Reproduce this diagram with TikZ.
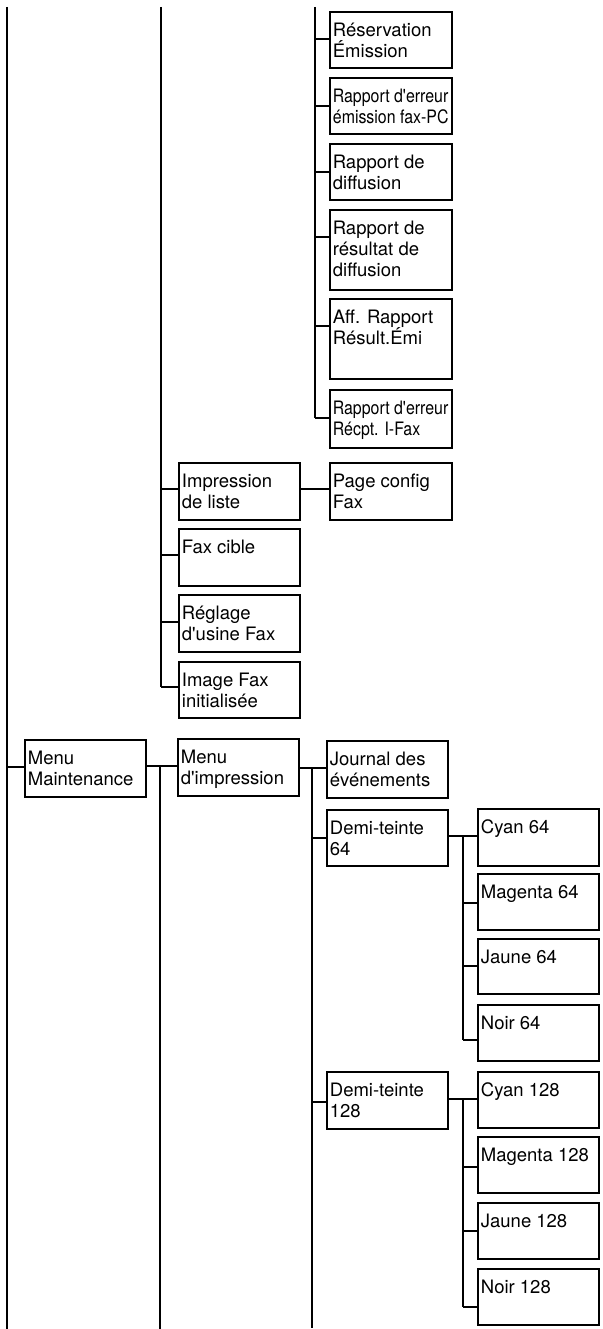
\documentclass[tikz,border=0pt]{standalone}
\usepackage{fontspec}
\usepackage{graphicx}
\usetikzlibrary{calc}
\newfontfamily\hv{TeX Gyre Heros}
\newcommand\cnd[1]{\scalebox{0.86}[1]{#1}}
\tikzset{
  bx/.style={draw, line width=1.8pt, inner sep=0pt, anchor=north west, font=\hv\fontsize{18.5}{21}\selectfont},
  ln/.style={line width=1.8pt},
}
\newcommand\bx[6]{\node[bx] (#1) at (#2,#3) {\parbox[t][#5pt][t]{#4pt}{\leftskip=3pt\rule{0pt}{24.5pt}#6}};}
\newcommand\stub[3]{\coordinate (#1s) at ($(#1.north west)+(0,#2)$);
  \draw[ln] (#3 |- #1s) -- (#1s);}
\begin{document}
\begin{tikzpicture}[x=1pt,y=-1pt]
\useasboundingbox (0,0) rectangle (602,1329);
% ---- column C (top)
\bx{res}{329}{11}{122}{56}{Réservation\\Émission}
\bx{rerr}{329}{77}{122}{56}{\cnd{Rapport d'erreur}\\\cnd{émission fax-PC}}
\bx{rdiff}{329}{143}{122}{56}{Rapport de\\diffusion}
\bx{rres}{329}{209}{122}{80}{Rapport de\\résultat de\\diffusion}
\bx{aff}{329}{298}{122}{80}{Aff. Rapport\\Résult.Émi}
\bx{rerr2}{329}{389}{122}{58}{\cnd{Rapport d'erreur}\\\cnd{Récpt. I-Fax}}
\bx{page}{329}{462}{122}{57}{Page config\\Fax}
% ---- column B (top)
\bx{imp}{178}{462}{121}{57}{Impression\\de liste}
\bx{faxc}{178}{528}{121}{57}{Fax cible}
\bx{regl}{178}{594}{121}{57}{Réglage\\d'usine Fax}
\bx{img}{178}{661}{121}{56}{Image Fax\\initialisée}
% ---- bottom part
\bx{mm}{24}{739}{121}{57}{Menu\\Maintenance}
\bx{mi}{177}{738}{121}{57}{Menu\\d'impression}
\bx{jrn}{326}{740}{121}{57}{Journal des\\événements}
\bx{d64}{326}{809}{121}{56}{Demi-teinte\\64}
\bx{c64}{477}{808}{121}{57}{Cyan 64}
\bx{m64}{477}{873}{121}{56}{Magenta 64}
\bx{j64}{477}{938}{121}{55}{Jaune 64}
\bx{n64}{477}{1004}{121}{56}{Noir 64}
\bx{d128}{326}{1071}{121}{57}{Demi-teinte\\128}
\bx{c128}{477}{1071}{121}{56}{Cyan 128}
\bx{m128}{477}{1136}{121}{56}{Magenta 128}
\bx{j128}{477}{1202}{121}{56}{Jaune 128}
\bx{n128}{477}{1268}{121}{56}{Noir 128}
% ---- trunks
\coordinate (tA1) at (7,7);
\coordinate (tA2) at (7,1329);
\draw[ln] (tA1) -- (tA2);
\coordinate (tB1) at (161,7);
\coordinate (tC1) at (315,7);
% column C stubs
\stub{res}{28}{tC1}
\stub{rerr}{29}{tC1}
\stub{rdiff}{29}{tC1}
\stub{rres}{28}{tC1}
\stub{aff}{28}{tC1}
\stub{rerr2}{29}{tC1}
\draw[ln] (tC1) -- (tC1 |- rerr2s);
% column B stubs
\stub{imp}{27}{tB1}
\stub{faxc}{27}{tB1}
\stub{regl}{28}{tB1}
\stub{img}{26}{tB1}
\draw[ln] (tB1) -- (tB1 |- imgs);
\draw[ln] (imps -| imp.east) -- (imps -| page.west);
% Menu Maintenance
\stub{mm}{28}{tA1}
\coordinate (mmr) at ($(mm.north east)+(0,27)$);
\coordinate (tB2) at (160,1329);
\draw[ln] (mmr) -- (mmr -| mi.west);
\draw[ln] (tB2 |- mmr) -- (tB2);
% Menu d'impression
\coordinate (mir) at ($(mi.north east)+(0,30)$);
\coordinate (tD2) at (312,1328);
\draw[ln] (mir) -- (mir -| jrn.west);
\draw[ln] (tD2 |- mir) -- (tD2);
\stub{d64}{29}{tD2}
\stub{d128}{31}{tD2}
% Demi-teinte 64
\coordinate (tE1) at (463,836);
\coordinate (d64r) at ($(d64.north east)+(0,27)$);
\draw[ln] (d64r) -- (d64r -| c64.west);
\stub{m64}{30}{tE1}
\stub{j64}{28}{tE1}
\stub{n64}{36}{tE1}
\draw[ln] (tE1 |- d64r) -- (tE1 |- n64s);
% Demi-teinte 128
\coordinate (d128r) at ($(d128.north east)+(0,28)$);
\draw[ln] (d128r) -- (d128r -| c128.west);
\stub{m128}{31}{tE1}
\stub{j128}{29}{tE1}
\stub{n128}{39}{tE1}
\draw[ln] (tE1 |- d128r) -- (tE1 |- n128s);
\end{tikzpicture}
\end{document}
